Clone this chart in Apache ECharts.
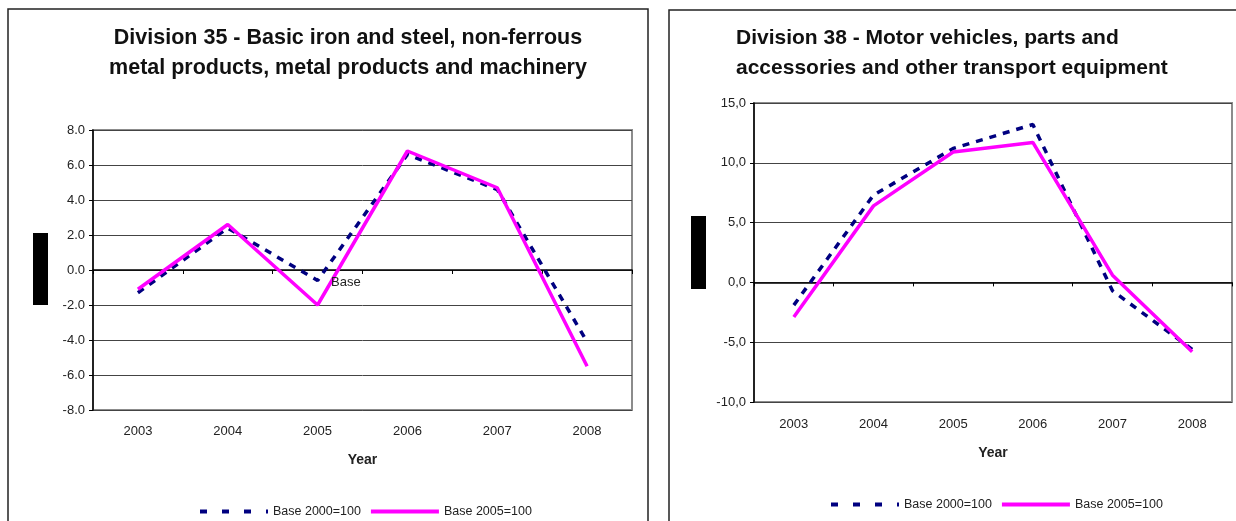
<!DOCTYPE html>
<html>
<head>
<meta charset="utf-8">
<script src="https://cdn.jsdelivr.net/npm/echarts@6/dist/echarts.min.js"></script>
<style>
html,body{margin:0;padding:0;background:#fff;}
#chart{width:1236px;height:521px;}
</style>
</head>
<body>
<div id="chart"></div>
<script>
// ---- data ----
var categories = ['2003', '2004', '2005', '2006', '2007', '2008'];
var seriesNames = ['Base 2000=100', 'Base 2005=100'];
var div35Title = 'Division 35 - Basic iron and steel, non-ferrous\nmetal products, metal products and machinery';
var div38Title = 'Division 38 - Motor vehicles, parts and\naccessories and other transport equipment';
var div35Base2000 = [-1.3, 2.4, -0.6, 6.6, 4.6, -4.1];
var div35Base2005 = [-1.1, 2.6, -2.0, 6.8, 4.7, -5.5];
var div38Base2000 = [-1.9, 7.3, 11.2, 13.2, -0.7, -5.6];
var div38Base2005 = [-2.9, 6.4, 10.9, 11.7, 0.6, -5.8];
var div35YTicks = { min: -8, max: 8, interval: 2 };
var div38YTicks = { min: -10, max: 15, interval: 5 };
var xAxisName = 'Year';
var strayLabel = 'Base';

var FONT = '"Liberation Sans", Arial, sans-serif';
var NAVY = '#000080', MAGENTA = '#FF00FF';

var chart = echarts.init(document.getElementById('chart'), null, { renderer: 'canvas' });

function yAxisFor(gridIndex, ticks, fmt) {
  return {
    type: 'value', gridIndex: gridIndex,
    min: ticks.min, max: ticks.max, interval: ticks.interval,
    axisLine: { show: true, onZero: false, lineStyle: { color: '#000', width: 1.5 } },
    axisTick: { show: true, length: 4, lineStyle: { color: '#000' } },
    axisLabel: { color: '#222', fontFamily: FONT, fontSize: 13, margin: 8, formatter: fmt },
    splitLine: { show: true, lineStyle: { color: '#444', width: 1 } }
  };
}
function zeroAxis(gridIndex) {
  return {
    type: 'category', gridIndex: gridIndex, data: categories, boundaryGap: true,
    axisLine: { show: true, onZero: true, lineStyle: { color: '#000', width: 1.5 } },
    axisTick: { show: true, length: 4, lineStyle: { color: '#000' } },
    axisLabel: { show: false }, splitLine: { show: false }
  };
}
function labelAxis(gridIndex, margin, nameGap) {
  return {
    type: 'category', gridIndex: gridIndex, data: categories, boundaryGap: true, position: 'bottom',
    axisLine: { show: false, onZero: false }, axisTick: { show: false },
    axisLabel: { color: '#222', fontFamily: FONT, fontSize: 13, margin: margin },
    name: xAxisName, nameLocation: 'middle', nameGap: nameGap,
    nameTextStyle: { color: '#222', fontFamily: FONT, fontSize: 14, fontWeight: 'bold' }
  };
}
function lineSeries(name, data, x, y, dashed) {
  return {
    name: name, type: 'line', xAxisIndex: x, yAxisIndex: y, data: data,
    symbol: 'none', showSymbol: false, smooth: false, z: dashed ? 3 : 4,
    lineStyle: { color: dashed ? NAVY : MAGENTA, width: 3.5, type: dashed ? [7, 7] : 'solid' },
    itemStyle: { color: dashed ? NAVY : MAGENTA }
  };
}
function legendAt(left, top) {
  return {
    data: [
      { name: seriesNames[0], lineStyle: { width: 4, type: [7, 15] } },
      { name: seriesNames[1], lineStyle: { width: 4 } }
    ],
    left: left, top: top, orient: 'horizontal',
    itemWidth: 68, itemHeight: 14, itemGap: 8, selectedMode: false,
    itemStyle: { opacity: 0, borderWidth: 0 },
    textStyle: { color: '#222', fontFamily: FONT, fontSize: 12.5 }
  };
}

var option = {
  animation: false,
  backgroundColor: '#fff',
  grid: [
    { left: 93, top: 130, width: 539, height: 280, show: true, borderColor: '#8c8c8c', borderWidth: 2, backgroundColor: 'transparent' },
    { left: 754, top: 103, width: 478, height: 299, show: true, borderColor: '#8c8c8c', borderWidth: 2, backgroundColor: 'transparent' }
  ],
  xAxis: [zeroAxis(0), labelAxis(0, 15, 43), zeroAxis(1), labelAxis(1, 16, 44)],
  yAxis: [
    yAxisFor(0, div35YTicks, function (v) { return v.toFixed(1); }),
    yAxisFor(1, div38YTicks, function (v) { return v.toFixed(1).replace('.', ','); })
  ],
  legend: [legendAt(193, 500), legendAt(824, 493)],
  series: [
    lineSeries(seriesNames[0], div35Base2000, 0, 0, true),
    lineSeries(seriesNames[1], div35Base2005, 0, 0, false),
    lineSeries(seriesNames[0], div38Base2000, 2, 1, true),
    lineSeries(seriesNames[1], div38Base2005, 2, 1, false)
  ],
  graphic: [
    { type: 'rect', shape: { x: 8, y: 9, width: 640, height: 540 }, style: { fill: 'none', stroke: '#222', lineWidth: 1.5 }, silent: true },
    { type: 'rect', shape: { x: 669, y: 10, width: 600, height: 540 }, style: { fill: 'none', stroke: '#222', lineWidth: 1.5 }, silent: true },
    { type: 'rect', shape: { x: 33, y: 233, width: 15, height: 72 }, style: { fill: '#000' }, silent: true },
    { type: 'rect', shape: { x: 691, y: 216, width: 15, height: 73 }, style: { fill: '#000' }, silent: true },
    { type: 'text', x: 348, y: 23, silent: true,
      style: { text: div35Title, font: 'bold 21.5px ' + FONT, fill: '#111', textAlign: 'center', textVerticalAlign: 'top', lineHeight: 30 } },
    { type: 'text', x: 736, y: 23, silent: true,
      style: { text: div38Title, font: 'bold 21px ' + FONT, fill: '#111', textAlign: 'left', textVerticalAlign: 'top', lineHeight: 30 } },
    { type: 'text', x: 331, y: 276, silent: true, z: 10,
      style: { text: strayLabel, font: '13px ' + FONT, fill: '#222' } }
  ]
};
chart.setOption(option);
</script>
</body>
</html>
